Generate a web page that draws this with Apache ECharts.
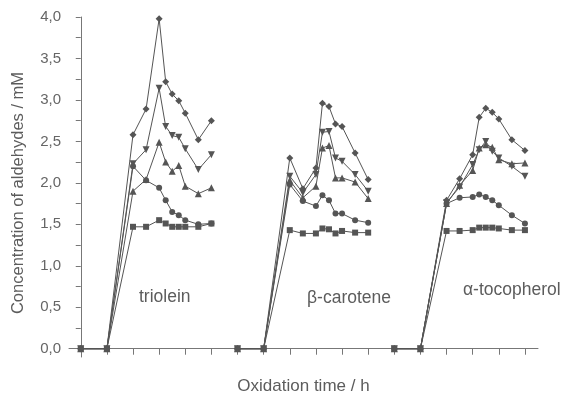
<!DOCTYPE html>
<html>
<head>
<meta charset="utf-8">
<script src="https://cdn.jsdelivr.net/npm/echarts@6/dist/echarts.min.js"></script>
<style>html,body{margin:0;padding:0;background:#fff;}#c{width:562px;height:400px;}</style>
</head>
<body>
<div id="c"></div>
<script>
// x positions (oxidation time axis, three groups side by side)
var xTriolein   = [0, 1, 2, 2.5, 3, 3.25, 3.5, 3.75, 4, 4.5, 5];
var xCarotene   = [6, 7, 8, 8.5, 9, 9.25, 9.5, 9.75, 10, 10.5, 11];
var xTocopherol = [12, 13, 14, 14.5, 15, 15.25, 15.5, 15.75, 16, 16.5, 17];

// triolein
var trioleinSquare   = [0, 0, 1.47, 1.47, 1.55, 1.51, 1.47, 1.47, 1.47, 1.47, 1.51];
var trioleinCircle   = [0, 0, 2.20, 2.03, 1.94, 1.79, 1.65, 1.61, 1.55, 1.50, 1.51];
var trioleinTriUp    = [0, 0, 1.90, 2.04, 2.49, 2.25, 2.14, 2.21, 1.96, 1.87, 1.94];
var trioleinTriDown  = [0, 0, 2.23, 2.40, 3.14, 2.68, 2.57, 2.55, 2.41, 2.16, 2.34];
var trioleinDiamond  = [0, 0, 2.58, 2.89, 3.98, 3.22, 3.07, 2.99, 2.84, 2.52, 2.75];

// beta-carotene
var caroteneSquare   = [0, 0, 1.43, 1.39, 1.39, 1.45, 1.44, 1.39, 1.42, 1.40, 1.40];
var caroteneCircle   = [0, 0, 1.98, 1.78, 1.72, 1.85, 1.79, 1.63, 1.63, 1.55, 1.52];
var caroteneTriUp    = [0, 0, 2.03, 1.82, 1.96, 2.42, 2.45, 2.06, 2.06, 2.01, 1.81];
var caroteneTriDown  = [0, 0, 2.08, 1.88, 2.10, 2.61, 2.62, 2.30, 2.26, 2.10, 1.90];
var caroteneDiamond  = [0, 0, 2.30, 1.93, 2.18, 2.96, 2.92, 2.71, 2.68, 2.36, 2.04];

// alpha-tocopherol
var tocoSquare   = [0, 0, 1.42, 1.42, 1.43, 1.46, 1.46, 1.46, 1.45, 1.43, 1.43];
var tocoCircle   = [0, 0, 1.75, 1.82, 1.83, 1.86, 1.83, 1.79, 1.73, 1.61, 1.51];
var tocoTriUp    = [0, 0, 1.75, 1.97, 2.15, 2.42, 2.46, 2.43, 2.28, 2.23, 2.24];
var tocoTriDown  = [0, 0, 1.76, 1.95, 2.22, 2.40, 2.50, 2.38, 2.30, 2.20, 2.08];
var tocoDiamond  = [0, 0, 1.79, 2.05, 2.34, 2.79, 2.90, 2.85, 2.77, 2.52, 2.39];

var yLabelValues = [0, 0.5, 1, 1.5, 2, 2.5, 3, 3.5, 4];
var yTickValues  = [0, 0.25, 0.5, 0.75, 1, 1.25, 1.5, 1.75, 2, 2.25, 2.5, 2.75, 3, 3.25, 3.5, 3.75, 4];
var xTickValues  = [0,1,2,3,4,5,6,7,8,9,10,11,12,13,14,15,16,17];

var groupLabels = ['triolein', 'β-carotene', 'α-tocopherol'];
var yAxisTitle = 'Concentration of aldehydes / mM';
var xAxisTitle = 'Oxidation time / h';

var FONT = '"Liberation Sans", Arial, Helvetica, sans-serif';
var LINE = '#555';
var AX = '#777';
var TXT = '#5c5c5c';

function pairs(xs, ys) { return xs.map(function (x, i) { return [x, ys[i]]; }); }

var markerDefs = [
  { sym: 'rect', size: 6, rot: 0 },
  { sym: 'circle', size: 6, rot: 0 },
  { sym: 'triangle', size: 7, rot: 0 },
  { sym: 'triangle', size: 7, rot: 180 },
  { sym: 'diamond', size: 7, rot: 0 }
];
var groups = [
  { xs: xTriolein, ys: [trioleinSquare, trioleinCircle, trioleinTriUp, trioleinTriDown, trioleinDiamond] },
  { xs: xCarotene, ys: [caroteneSquare, caroteneCircle, caroteneTriUp, caroteneTriDown, caroteneDiamond] },
  { xs: xTocopherol, ys: [tocoSquare, tocoCircle, tocoTriUp, tocoTriDown, tocoDiamond] }
];

var series = [];
groups.forEach(function (g) {
  g.ys.forEach(function (ys, k) {
    var m = markerDefs[k];
    series.push({
      type: 'line',
      data: pairs(g.xs, ys),
      symbol: m.sym,
      symbolSize: m.size,
      symbolRotate: m.rot,
      showAllSymbol: true,
      lineStyle: { color: LINE, width: 1 },
      itemStyle: { color: LINE },
      animation: false,
      z: 2
    });
  });
});

var chart = echarts.init(document.getElementById('c'), null, { renderer: 'canvas' });
chart.setOption({
  backgroundColor: '#fff',
  animation: false,
  grid: { left: 69, right: 24, top: 17, bottom: 39, containLabel: false },
  xAxis: {
    type: 'value',
    min: -0.45,
    max: 17.5,
    name: xAxisTitle,
    nameLocation: 'middle',
    nameGap: 21,
    nameTextStyle: { fontFamily: FONT, fontSize: 17, color: TXT },
    axisLine: { show: true, lineStyle: { color: AX, width: 1 } },
    axisTick: { show: true, inside: false, length: 6, customValues: xTickValues, lineStyle: { color: AX } },
    axisLabel: { show: false },
    splitLine: { show: false }
  },
  yAxis: {
    type: 'value',
    min: -0.1,
    max: 4.0,
    axisLine: { show: true, lineStyle: { color: AX, width: 1 } },
    axisTick: { show: true, inside: false, length: 5, customValues: yTickValues, lineStyle: { color: AX } },
    axisLabel: {
      show: true, customValues: yLabelValues, margin: 8,
      fontFamily: FONT, fontSize: 15, color: '#666',
      formatter: function (v) { return v.toFixed(1).replace('.', ','); }
    },
    splitLine: { show: false }
  },
  graphic: [
    { type: 'text', x: 18, y: 193, rotation: Math.PI / 2,
      style: { text: yAxisTitle, font: '16.5px ' + FONT, fill: TXT, align: 'center', verticalAlign: 'middle' } },
    { type: 'text', left: 139, top: 288, style: { text: groupLabels[0], font: '17.5px ' + FONT, fill: TXT } },
    { type: 'text', left: 307, top: 289, style: { text: groupLabels[1], font: '17.5px ' + FONT, fill: TXT } },
    { type: 'text', left: 463, top: 281, style: { text: groupLabels[2], font: '17.5px ' + FONT, fill: TXT } }
  ],
  series: series
});
</script>
</body>
</html>
